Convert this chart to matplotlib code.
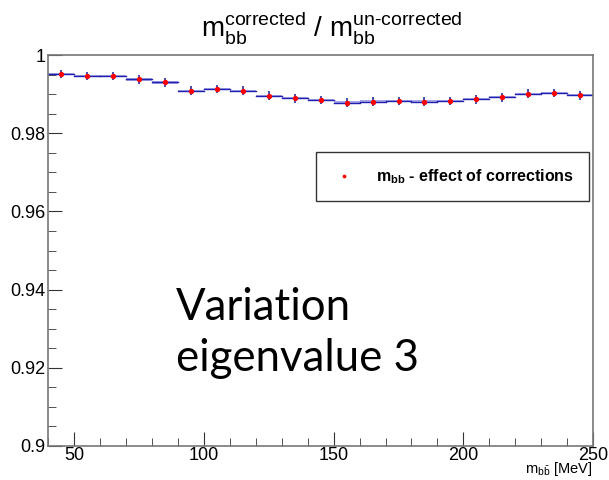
import numpy as np
import matplotlib
matplotlib.use('Agg')
import matplotlib.pyplot as plt
from matplotlib.ticker import MultipleLocator

plt.rcParams['font.family'] = ['Liberation Sans', 'DejaVu Sans']
plt.rcParams['mathtext.fontset'] = 'custom'
plt.rcParams['mathtext.rm'] = 'Liberation Sans'
plt.rcParams['mathtext.bf'] = 'Liberation Sans:bold'

# bins of m_bb (10 wide, 40 to 250)
bin_edges = np.arange(40, 251, 10)
bin_centers = np.arange(45, 250, 10)
ratio = [0.99517, 0.99466, 0.99466, 0.99382, 0.99305, 0.99092, 0.99135,
         0.99092, 0.98964, 0.98898, 0.98850, 0.98786, 0.98812, 0.98830,
         0.98812, 0.98830, 0.98873, 0.98924, 0.99015, 0.99033, 0.98974]
ratio_err = [0.0011] * len(ratio)
band_err = [0.0003] * len(ratio)

fig = plt.figure(figsize=(6.09, 4.8), dpi=100)
ax = fig.add_axes([0.079, 0.071, 0.895, 0.814])

ratio = np.array(ratio)
band_err = np.array(band_err)
# light blue error band + dark blue histogram line
for i in range(len(ratio)):
    ax.fill_between([bin_edges[i], bin_edges[i+1]], ratio[i] - band_err[i], ratio[i] + band_err[i],
                    color='#a8a8e6', lw=0, zorder=1)
    ax.plot([bin_edges[i], bin_edges[i+1]], [ratio[i], ratio[i]], color='#2020b0', lw=1.0, zorder=2)

# vertical error bars, then the red points
ax.errorbar(bin_centers, ratio, yerr=ratio_err, fmt='none', ecolor='#1a1a9a',
            elinewidth=1.1, capsize=0, zorder=3)
ax.plot(bin_centers, ratio, 'o', ms=2.8, color='red', zorder=4,
        label=r'$\mathbf{m_{bb}}$ - effect of corrections')

ax.set_xlim(40, 250)
ax.set_ylim(0.9, 1.0)
ax.xaxis.set_major_locator(MultipleLocator(50))
ax.xaxis.set_minor_locator(MultipleLocator(10))
ax.yaxis.set_minor_locator(MultipleLocator(0.005))
ax.set_yticks([0.9, 0.92, 0.94, 0.96, 0.98, 1.0])
ax.set_yticklabels(['0.9', '0.92', '0.94', '0.96', '0.98', '1'])
ax.tick_params(which='both', direction='in', top=False, right=False, labelsize=13, color='#333333')
ax.tick_params(axis='x', pad=1)
ax.tick_params(axis='y', pad=2)
ax.tick_params(which='major', length=10)
ax.tick_params(which='minor', length=6)
for s in ax.spines.values():
    s.set_color('#777777')
    s.set_linewidth(1.2)

leg = ax.legend(loc='upper right', bbox_to_anchor=(0.992, 0.752), borderaxespad=0,
                frameon=True, fancybox=False, edgecolor='black', handlelength=1.6,
                handletextpad=1.2, borderpad=0.95,
                prop={'weight': 'bold', 'size': 11.5}, markerscale=0.6)
leg.get_frame().set_linewidth(1.0)

fig.text(0.545, 0.94, r'$\mathrm{m}_{\mathrm{bb}}^{\mathrm{corrected}}$ / $\mathrm{m}_{\mathrm{bb}}^{\mathrm{un}\text{-}\mathrm{corrected}}$',
         ha='center', va='center', fontsize=20)
fig.text(0.972, 0.004, r'$\mathrm{m}_{\mathrm{b\bar{b}}}$ [MeV]', ha='right', va='bottom', fontsize=10.5)

ax.text(0.234, 0.29, 'Variation\neigenvalue 3', transform=ax.transAxes, ha='left', va='center',
        fontsize=31.5, family=['Lato', 'DejaVu Sans'], linespacing=1.3)

fig.savefig('out.png', dpi=100)
